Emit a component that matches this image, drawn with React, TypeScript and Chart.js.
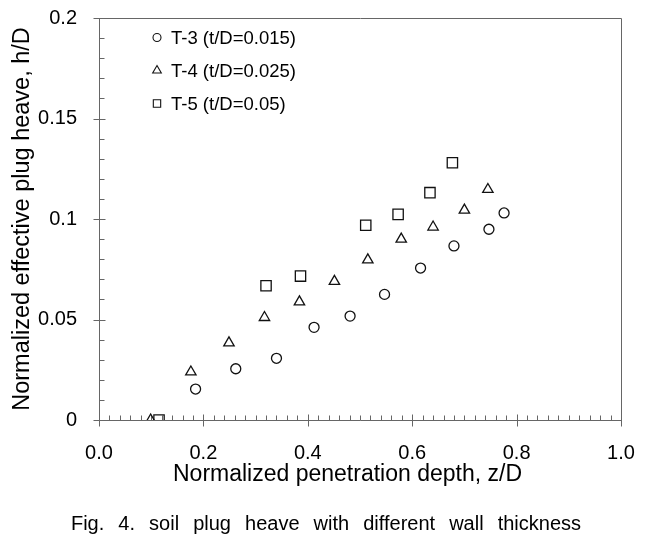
import React, { useEffect, useRef } from 'react';
import { Chart, registerables } from 'chart.js';

Chart.register(...registerables);

// ---- data ----
const seriesLabels = ['T-3 (t/D=0.015)', 'T-4 (t/D=0.025)', 'T-5 (t/D=0.05)'];
const t3X = [0.185, 0.262, 0.340, 0.412, 0.481, 0.547, 0.616, 0.680, 0.747, 0.776];
const t3Y = [0.0154, 0.0255, 0.0307, 0.0461, 0.0517, 0.0625, 0.0756, 0.0866, 0.0949, 0.103];
const t4X = [0.099, 0.176, 0.249, 0.317, 0.384, 0.451, 0.515, 0.579, 0.640, 0.700, 0.745];
const t4Y = [0.0, 0.0239, 0.0384, 0.051, 0.0588, 0.069, 0.0797, 0.090, 0.096, 0.1044, 0.1147];
const t5X = [0.115, 0.320, 0.386, 0.511, 0.573, 0.634, 0.677];
const t5Y = [0.0, 0.0668, 0.0716, 0.0969, 0.1023, 0.1131, 0.128];
const xTickLabels = ['0.0', '0.2', '0.4', '0.6', '0.8', '1.0'];
const yTickLabels = ['0', '0.05', '0.1', '0.15', '0.2'];
const xTitle = 'Normalized penetration depth, z/D';
const yTitle = 'Normalized effective plug heave, h/D';
const caption = 'Fig. 4. soil plug heave with different wall thickness';

const FONT = "'Liberation Sans', Arial, Helvetica, sans-serif";
const AXIS = '#666666';
const MARK = '#111111';
const pointStyles = ['circle', 'triangle', 'rect'] as const;
const pointRadii = [5, 6, 7.3];
const legendRadii = [4, 5, 5.2];

function pts(xs: number[], ys: number[]) {
  return xs.map((x, i) => ({ x, y: ys[i] }));
}

function drawShape(ctx: CanvasRenderingContext2D, style: string, x: number, y: number, r: number) {
  ctx.beginPath();
  if (style === 'circle') {
    ctx.arc(x, y, r, 0, Math.PI * 2);
  } else if (style === 'triangle') {
    let rad = 0;
    const step = (Math.PI * 2) / 3;
    ctx.moveTo(x + Math.sin(rad) * r, y - Math.cos(rad) * r);
    rad += step;
    ctx.lineTo(x + Math.sin(rad) * r, y - Math.cos(rad) * r);
    rad += step;
    ctx.lineTo(x + Math.sin(rad) * r, y - Math.cos(rad) * r);
    ctx.closePath();
  } else {
    const s = Math.SQRT1_2 * r;
    ctx.rect(x - s, y - s, 2 * s, 2 * s);
  }
  ctx.stroke();
}

const frameTicksPlugin = {
  id: 'frameTicks',
  beforeDatasetsDraw(chart: any) {
    const { ctx, chartArea, scales } = chart;
    const { left, right, top, bottom } = chartArea;
    const xs = scales.x;
    const ys = scales.y;
    ctx.save();
    ctx.strokeStyle = AXIS;
    ctx.lineWidth = 1;
    ctx.beginPath();
    const T = Math.round(top) + 0.5;
    const R = Math.round(right) + 0.5;
    const B = Math.round(bottom) + 0.5;
    const L = Math.round(left) + 0.5;
    ctx.moveTo(L, T);
    ctx.lineTo(R, T);
    ctx.moveTo(R, T);
    ctx.lineTo(R, B);
    // x ticks: minor every 0.02, major every 0.2
    for (let i = 0; i <= 50; i++) {
      const px = Math.round(xs.getPixelForValue(i * 0.02)) + 0.5;
      const major = i % 10 === 0;
      ctx.moveTo(px, B + (major ? 6 : 0));
      ctx.lineTo(px, B - (major ? 6 : 5));
    }
    // y ticks: minor every 0.01, major every 0.05
    for (let i = 0; i <= 20; i++) {
      const py = Math.round(ys.getPixelForValue(i * 0.01)) + 0.5;
      const major = i % 5 === 0;
      ctx.moveTo(L - (major ? 6 : 0), py);
      ctx.lineTo(L + (major ? 6 : 5), py);
    }
    ctx.stroke();
    // x axis title (sits slightly left of the plot centre, as in the figure)
    ctx.fillStyle = '#000';
    ctx.font = `23px ${FONT}`;
    ctx.textAlign = 'left';
    ctx.textBaseline = 'alphabetic';
    ctx.fillText(xTitle, left + 74, bottom + 61);
    ctx.restore();
  },
  afterDatasetsDraw(chart: any) {
    const { ctx, chartArea } = chart;
    const { left, top } = chartArea;
    const rows = [19.5, 52.5, 85.5];
    ctx.save();
    ctx.strokeStyle = MARK;
    ctx.lineWidth = 1.1;
    ctx.fillStyle = '#000';
    ctx.font = `18.5px ${FONT}`;
    ctx.textBaseline = 'middle';
    ctx.textAlign = 'left';
    seriesLabels.forEach((lab, i) => {
      const cy = top + rows[i];
      drawShape(ctx, pointStyles[i], left + 58, cy, legendRadii[i]);
      ctx.fillText(lab, left + 72, cy + 1);
    });
    ctx.restore();
  },
};

export default function App() {
  const ref = useRef<HTMLCanvasElement | null>(null);
  useEffect(() => {
    if (!ref.current) return;
    Chart.defaults.font.family = FONT;
    Chart.defaults.color = '#000';
    const mk = (i: number, data: { x: number; y: number }[]) => ({
      label: seriesLabels[i],
      data,
      pointStyle: pointStyles[i],
      pointRadius: pointRadii[i],
      pointHoverRadius: pointRadii[i],
      borderColor: MARK,
      backgroundColor: 'rgba(0,0,0,0)',
      pointBorderWidth: 1.3,
      borderWidth: 1.3,
      showLine: false,
    });
    const chart = new Chart(ref.current, {
      type: 'scatter',
      data: {
        datasets: [mk(0, pts(t3X, t3Y)), mk(1, pts(t4X, t4Y)), mk(2, pts(t5X, t5Y))],
      },
      options: {
        responsive: false,
        animation: false,
        layout: { padding: { left: 0, top: 18, right: 31, bottom: 55 } },
        plugins: {
          legend: { display: false },
          tooltip: { enabled: false },
        },
        scales: {
          x: {
            type: 'linear',
            min: 0,
            max: 1,
            ticks: {
              stepSize: 0.2,
              padding: 21,
              font: { size: 20 },
              color: '#000',
              callback: (_v: any, i: number) => xTickLabels[i],
            },
            grid: { display: false, drawTicks: false },
            border: { display: true, color: AXIS, width: 1 },
            title: { display: false, text: xTitle },
            afterFit: (s: any) => {
              s.height = 67;
              s.paddingLeft = 0;
              s.paddingRight = 0;
            },
          },
          y: {
            type: 'linear',
            min: 0,
            max: 0.2,
            ticks: {
              stepSize: 0.05,
              padding: 22,
              font: { size: 20 },
              color: '#000',
              callback: (_v: any, i: number) => yTickLabels[i],
            },
            grid: { display: false, drawTicks: false },
            border: { display: true, color: AXIS, width: 1 },
            title: {
              display: true,
              text: yTitle,
              font: { size: 23.5 },
              color: '#000',
              padding: { top: 8, bottom: 0 },
            },
            afterFit: (s: any) => {
              s.width = 99;
              s.paddingTop = 0;
              s.paddingBottom = 0;
            },
          },
        },
      },
      plugins: [frameTicksPlugin],
    } as any);
    return () => chart.destroy();
  }, []);

  return (
    <div style={{ position: 'absolute', left: 0, top: 0, width: 652, height: 542, background: '#fff' }}>
      <canvas ref={ref} width={652} height={542} style={{ display: 'block', width: 652, height: 542 }} />
      <div
        style={{
          position: 'absolute',
          left: 0,
          top: 512,
          width: 652,
          textAlign: 'center',
          fontFamily: FONT,
          fontSize: 20,
          wordSpacing: 8.5,
          color: '#000',
          whiteSpace: 'nowrap',
        }}
      >
        {caption}
      </div>
    </div>
  );
}
